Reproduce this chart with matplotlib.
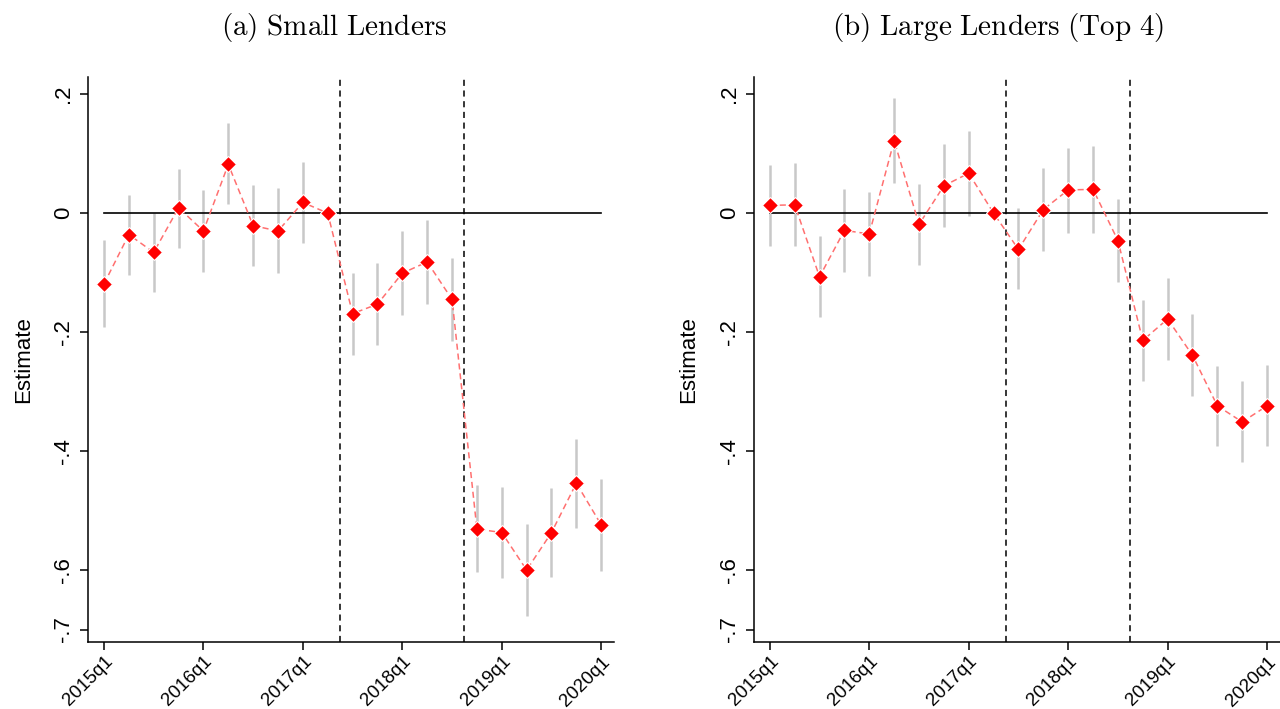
import numpy as np
import matplotlib
matplotlib.use("Agg")
import matplotlib.pyplot as plt

plt.rcParams["font.family"] = ["Liberation Sans", "DejaVu Sans"]
plt.rcParams["mathtext.fontset"] = "cm"

quarters = [f"{y}q{q}" for y in range(2015, 2021) for q in range(1, 5)][:21]
tick_labels = ["2015q1", "2016q1", "2017q1", "2018q1", "2019q1", "2020q1"]
yticks = [0.2, 0, -0.2, -0.4, -0.6, -0.7]
yticklabels = [".2", "0", "-.2", "-.4", "-.6", "-.7"]
event_lines = [9.5, 14.5]

# small lenders
small_est = [-0.119, -0.036, -0.066, 0.009, -0.030, 0.082, -0.021, -0.030, 0.018, 0.0,
             -0.169, -0.153, -0.101, -0.082, -0.145, -0.531, -0.537, -0.600, -0.537,
             -0.454, -0.524]
small_lo = [-0.192, -0.104, -0.133, -0.058, -0.099, 0.015, -0.089, -0.100, -0.051, np.nan,
            -0.239, -0.222, -0.171, -0.153, -0.215, -0.604, -0.614, -0.677, -0.612,
            -0.530, -0.602]
small_hi = [-0.045, 0.031, 0.001, 0.075, 0.039, 0.151, 0.048, 0.042, 0.086, np.nan,
            -0.100, -0.083, -0.030, -0.012, -0.075, -0.457, -0.461, -0.522, -0.462,
            -0.379, -0.447]

# large lenders (top 4)
large_est = [0.013, 0.014, -0.107, -0.029, -0.035, 0.122, -0.019, 0.046, 0.067, 0.0,
             -0.061, 0.006, 0.039, 0.040, -0.046, -0.214, -0.178, -0.239, -0.324,
             -0.351, -0.324]
large_lo = [-0.055, -0.056, -0.174, -0.099, -0.105, 0.050, -0.087, -0.024, -0.005, np.nan,
            -0.128, -0.064, -0.033, -0.034, -0.115, -0.282, -0.247, -0.308, -0.392,
            -0.418, -0.392]
large_hi = [0.081, 0.084, -0.038, 0.041, 0.035, 0.193, 0.049, 0.117, 0.138, np.nan,
            0.008, 0.076, 0.110, 0.113, 0.024, -0.146, -0.109, -0.170, -0.257,
            -0.283, -0.255]

panels = [
    ("(a) Small Lenders", small_est, small_lo, small_hi, 0.261),
    ("(b) Large Lenders (Top 4)", large_est, large_lo, large_hi, 0.780),
]

fig = plt.figure(figsize=(12.8, 7.09), dpi=100)
axes = [fig.add_axes([0.0688, 0.0945, 0.411, 0.797]),
        fig.add_axes([0.589, 0.0945, 0.411, 0.797])]

x = np.arange(len(quarters))
for ax, (title, est, lo, hi, tx) in zip(axes, panels):
    est = np.array(est)
    lo = np.array(lo)
    hi = np.array(hi)
    ax.vlines(x, lo, hi, color="#c8c8c8", lw=1.8, zorder=1)
    ax.plot([x[0], x[-1]], [0, 0], color="black", lw=1.2, zorder=2)
    for xv in event_lines:
        ax.axvline(xv, color="black", lw=1.1, ls=(0, (4, 3)), zorder=2)
    ax.plot(x, est, color="#ff7070", lw=1.1, ls=(0, (4, 2.5)), zorder=3)
    ax.plot(x, est, ls="none", marker="D", ms=8, mfc="red", mec="white",
            mew=0.8, zorder=4)

    ax.set_xlim(-0.64, 20.52)
    ax.set_ylim(-0.721, 0.229)
    ax.set_xticks([quarters.index(t) for t in tick_labels])
    ax.set_xticklabels(tick_labels, rotation=45, ha="right", rotation_mode="anchor",
                       fontsize=13.5)
    ax.set_yticks(yticks)
    ax.set_yticklabels(yticklabels, rotation=90, va="center", fontsize=16)
    ax.set_ylabel("Estimate", fontsize=16, labelpad=14)
    ax.tick_params(direction="out", length=6, width=1.1, pad=4)
    ax.tick_params(axis="x", pad=2)
    for side in ("top", "right"):
        ax.spines[side].set_visible(False)
    for side in ("left", "bottom"):
        ax.spines[side].set_linewidth(1.1)
    fig.text(tx, 1 - 28 / 709, r"$\mathrm{" + title.replace(" ", r"\ ") + "}$",
             fontsize=21, ha="center", va="center")

fig.savefig("out.png", dpi=100, facecolor="white")
